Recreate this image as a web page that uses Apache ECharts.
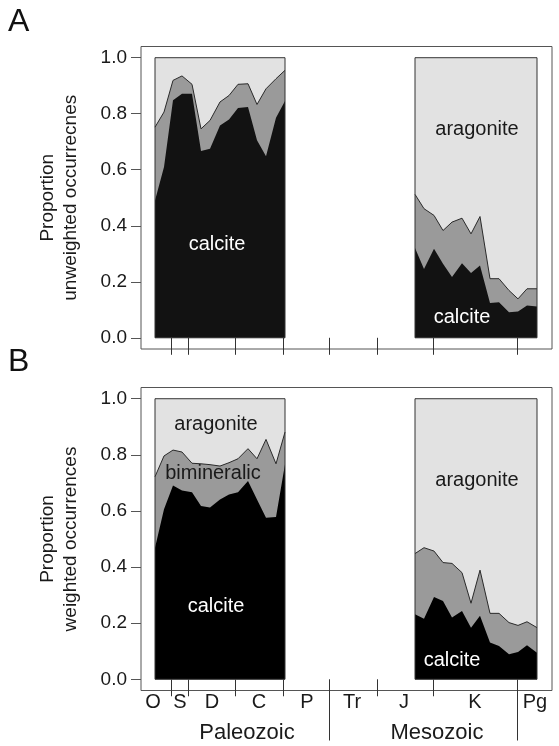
<!DOCTYPE html>
<html>
<head>
<meta charset="utf-8">
<script src="https://cdn.jsdelivr.net/npm/echarts@6/dist/echarts.min.js"></script>
<style>
html,body{margin:0;padding:0;background:#fff;}
#chart{width:559px;height:746px;}
</style>
</head>
<body>
<div id="chart"></div>
<script>
// ---------- data ----------
// x values: approximate age (Ma-like units along the time axis)
const paleoAges = [427, 418, 409, 400, 390, 381, 372, 362, 353, 344, 334, 325, 316, 306, 297];
const mesoAges  = [167, 158, 148, 139, 130, 120, 111, 102, 92, 83, 73, 64, 55, 45];

// Panel A: unweighted occurrences
const calciteA_paleo = [0.49, 0.61, 0.848, 0.871, 0.871, 0.667, 0.675, 0.758, 0.779, 0.820, 0.824, 0.705, 0.648, 0.786, 0.845];
const bimineralicA_paleo = [0.262, 0.196, 0.071, 0.064, 0.034, 0.079, 0.101, 0.084, 0.086, 0.085, 0.083, 0.128, 0.241, 0.139, 0.110];
const calciteA_meso = [0.321, 0.246, 0.318, 0.264, 0.217, 0.266, 0.231, 0.258, 0.124, 0.127, 0.091, 0.094, 0.115, 0.112];
const bimineralicA_meso = [0.191, 0.215, 0.119, 0.119, 0.196, 0.161, 0.140, 0.175, 0.087, 0.084, 0.078, 0.045, 0.060, 0.063];

// Panel B: weighted occurrences
const calciteB_paleo = [0.469, 0.606, 0.691, 0.673, 0.667, 0.618, 0.612, 0.641, 0.659, 0.667, 0.707, 0.641, 0.576, 0.578, 0.766];
const bimineralicB_paleo = [0.253, 0.190, 0.126, 0.137, 0.103, 0.150, 0.153, 0.119, 0.113, 0.119, 0.115, 0.145, 0.279, 0.190, 0.115];
const calciteB_meso = [0.232, 0.216, 0.293, 0.279, 0.220, 0.243, 0.184, 0.226, 0.131, 0.119, 0.089, 0.097, 0.121, 0.095];
const bimineralicB_meso = [0.216, 0.253, 0.164, 0.137, 0.193, 0.137, 0.087, 0.163, 0.104, 0.116, 0.113, 0.095, 0.084, 0.089];

// axis ticks / labels
const yTicks = [0, 0.2, 0.4, 0.6, 0.8, 1.0];
const periodBounds = [411, 394, 347, 299, 253, 205, 149, 65];
const periodNames = ['O', 'S', 'D', 'C', 'P', 'Tr', 'J', 'K', 'Pg'];
const periodLabelAt = [429, 402, 370, 323, 275, 230, 178, 107, 47];
const eraBounds = [253, 65];
const eraNames = ['Paleozoic', 'Mesozoic'];
const eraLabelAt = [335, 145];
const xRange = [30, 441];

// ---------- chart ----------
const FONT = 'Liberation Sans, Arial, sans-serif';
const C_CAL = ['#121212', '#000000'];
const C_BIM = '#9a9a9a';
const C_ARA = '#e2e2e2';

function zip(xs, ys) { return xs.map((x, i) => [x, ys[i]]); }
function zipSum(xs, a, b) { return xs.map((x, i) => [x, a[i] + b[i]]); }
function boxFill(xs) { return [[xs[0], 1], [xs[xs.length - 1], 1]]; }
function boxLine(xs) {
  const a = xs[0], b = xs[xs.length - 1];
  return [[a, 0], [a, 1], [b, 1], [b, 0], [a, 0]];
}

const panels = [
  {xi: 0, cp: calciteA_paleo, bp: bimineralicA_paleo, cm: calciteA_meso, bm: bimineralicA_meso},
  {xi: 1, cp: calciteB_paleo, bp: bimineralicB_paleo, cm: calciteB_meso, bm: bimineralicB_meso}
];

const series = [];
panels.forEach((p, g) => {
  [[paleoAges, p.cp, p.bp], [mesoAges, p.cm, p.bm]].forEach(([ages, cal, bim]) => {
    const common = {type: 'line', xAxisIndex: p.xi, yAxisIndex: g, symbol: 'none', silent: true};
    series.push(Object.assign({}, common, {
      name: 'aragonite', data: boxFill(ages),
      lineStyle: {width: 0}, areaStyle: {color: C_ARA, opacity: 1}, z: 1
    }));
    series.push(Object.assign({}, common, {
      name: 'bimineralic', data: zipSum(ages, cal, bim),
      lineStyle: {width: 1, color: '#2a2a2a'}, areaStyle: {color: C_BIM, opacity: 1}, z: 2
    }));
    series.push(Object.assign({}, common, {
      name: 'calcite', data: zip(ages, cal),
      lineStyle: {width: 0}, areaStyle: {color: C_CAL[g], opacity: 1}, z: 3
    }));
    series.push(Object.assign({}, common, {
      name: 'box', data: boxLine(ages),
      lineStyle: {width: 1, color: '#333'}, z: 4
    }));
  });
});

function yAxis(g, name) {
  return {
    gridIndex: g, type: 'value', min: -0.04, max: 1.04, position: 'left',
    axisLine: {show: false}, splitLine: {show: false},
    axisTick: {show: true, length: 10, customValues: yTicks, lineStyle: {color: '#555', width: 1}},
    axisLabel: {customValues: yTicks, formatter: v => v.toFixed(1), fontSize: 19, color: '#1a1a1a', margin: 14, fontFamily: FONT},
    name: name, nameLocation: 'middle', nameGap: 59, nameRotate: 90,
    nameTextStyle: {fontSize: 19, lineHeight: 23, color: '#1a1a1a', fontFamily: FONT}
  };
}

function xBase(g) {
  return {gridIndex: g, type: 'value', position: 'bottom', min: xRange[0], max: xRange[1], inverse: true,
    axisLine: {show: false}, splitLine: {show: false}};
}

const xAxes = [
  // panel A
  Object.assign(xBase(0), {
    axisTick: {show: true, length: 17, customValues: periodBounds, lineStyle: {color: '#333'}},
    axisLabel: {show: false}
  }),
  // panel B: periods
  Object.assign(xBase(1), {
    axisTick: {show: true, length: 17, customValues: periodBounds, lineStyle: {color: '#333'}},
    axisLabel: {show: true, customValues: periodLabelAt, margin: 2, fontSize: 20, color: '#1a1a1a', fontFamily: FONT,
      formatter: v => periodNames[periodLabelAt.indexOf(v)] || ''}
  }),
  // panel B: eras
  Object.assign(xBase(1), {
    axisTick: {show: true, length: 50, customValues: eraBounds, lineStyle: {color: '#333'}},
    axisLabel: {show: true, customValues: eraLabelAt, margin: 31, fontSize: 22, color: '#1a1a1a', fontFamily: FONT,
      formatter: v => eraNames[eraLabelAt.indexOf(v)] || ''}
  })
];

function txt(x, y, s, color, size) {
  return {type: 'text', x: x, y: y, z: 100,
    style: {text: s, fill: color, font: (size || 20) + 'px ' + FONT, textAlign: 'center', textVerticalAlign: 'middle'}};
}

const option = {
  animation: false,
  backgroundColor: '#fff',
  grid: [
    {left: 141, right: 7, top: 46.5, height: 302.5, show: true, borderColor: '#555', borderWidth: 1, backgroundColor: 'transparent'},
    {left: 141, right: 7, top: 387.5, height: 303, show: true, borderColor: '#555', borderWidth: 1, backgroundColor: 'transparent'}
  ],
  xAxis: xAxes,
  yAxis: [yAxis(0, 'Proportion\nunweighted occurrecnes'), yAxis(1, 'Proportion\nweighted occurrences')],
  series: series,
  graphic: [
    {type: 'text', x: 8, y: 6, z: 100, style: {text: 'A', fill: '#111', font: '32px ' + FONT}},
    {type: 'text', x: 8, y: 346, z: 100, style: {text: 'B', fill: '#111', font: '32px ' + FONT}},
    txt(217, 244, 'calcite', '#fff'),
    txt(477, 129, 'aragonite', '#1a1a1a'),
    txt(462, 317, 'calcite', '#fff'),
    txt(216, 424, 'aragonite', '#1a1a1a'),
    txt(213, 473, 'bimineralic', '#1a1a1a'),
    txt(216, 606, 'calcite', '#fff'),
    txt(477, 480, 'aragonite', '#1a1a1a'),
    txt(452, 660, 'calcite', '#fff')
  ]
};

const chart = echarts.init(document.getElementById('chart'), null, {renderer: 'canvas'});
chart.setOption(option);
</script>
</body>
</html>
